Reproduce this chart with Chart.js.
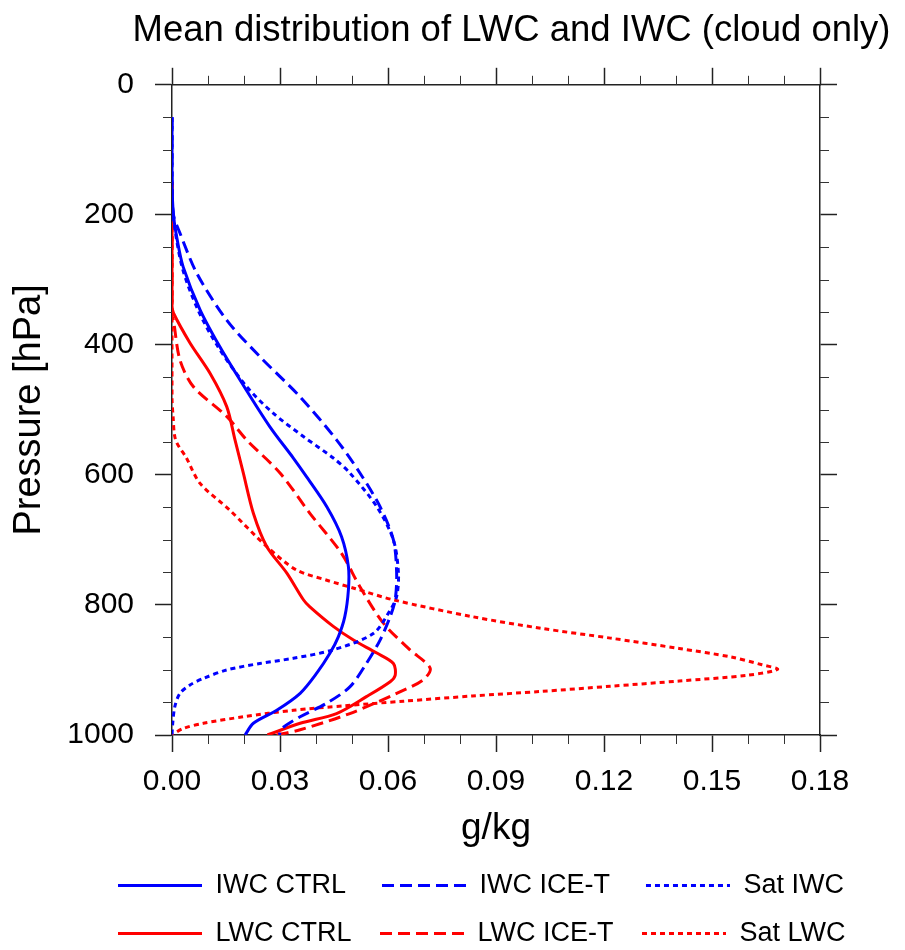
<!DOCTYPE html>
<html>
<head>
<meta charset="utf-8">
<title>Mean distribution of LWC and IWC (cloud only)</title>
<script src="https://cdn.jsdelivr.net/npm/chart.js@4.4.1/dist/chart.umd.min.js"></script>
<style>
  html, body { margin: 0; padding: 0; background: #fff; }
</style>
</head>
<body>
<canvas id="profile-chart" width="905" height="950"></canvas>
<script>
// pressure levels (hPa) and mixing ratios (g/kg)
const pIwcCtrl = [50, 150, 200, 240, 280, 346, 403, 454, 526, 574, 603, 649, 695, 741, 777, 818, 849, 874, 905, 936, 962, 982, 1000];
const iwcCtrl  = [0, 0, 0.0004, 0.0015, 0.0031, 0.0078, 0.0133, 0.0189, 0.0272, 0.0337, 0.0374, 0.043, 0.0471, 0.049, 0.049, 0.048, 0.0462, 0.0439, 0.0402, 0.0356, 0.0291, 0.0226, 0.0203];

const pIwcIce = [50, 150, 200, 228, 290, 362, 418, 480, 546, 597, 649, 700, 751, 792, 818, 854, 890, 926, 951, 972, 990, 1000];
const iwcIce  = [0, 0, 0.0004, 0.0022, 0.0069, 0.0152, 0.0244, 0.0356, 0.0457, 0.0522, 0.0578, 0.0615, 0.0624, 0.062, 0.0606, 0.0578, 0.054, 0.0494, 0.043, 0.0356, 0.0305, 0.0298];

const pSatIwc = [50, 150, 200, 280, 346, 403, 464, 505, 541, 574, 597, 649, 700, 751, 787, 808, 844, 869, 882, 890, 900, 913, 923, 936, 956, 982, 1000];
const satIwc  = [0, 0, 0.0003, 0.0028, 0.0072, 0.0128, 0.0207, 0.0281, 0.0365, 0.0448, 0.0494, 0.0569, 0.0615, 0.0629, 0.0624, 0.0606, 0.0559, 0.0448, 0.0337, 0.0244, 0.0152, 0.0087, 0.005, 0.0022, 0.0008, 0.0002, 0];

const pLwcCtrl = [150, 340, 351, 397, 444, 495, 546, 597, 659, 710, 751, 792, 803, 833, 854, 874, 890, 908, 918, 941, 967, 982, 1000];
const lwcCtrl  = [0, 0, 0.0004, 0.005, 0.0106, 0.0152, 0.0175, 0.0198, 0.0226, 0.0263, 0.0319, 0.0365, 0.0383, 0.0448, 0.0504, 0.0569, 0.0615, 0.062, 0.0606, 0.054, 0.0457, 0.0356, 0.0265];

const pLwcIce = [150, 355, 362, 423, 464, 510, 546, 597, 659, 720, 772, 828, 869, 897, 915, 936, 967, 992, 1000];
const lwcIce  = [0, 0, 0.0004, 0.0022, 0.0059, 0.0152, 0.0207, 0.03, 0.0383, 0.047, 0.0522, 0.0587, 0.0661, 0.0717, 0.0698, 0.0624, 0.0494, 0.0356, 0.029];

const pSatLwc = [150, 480, 510, 546, 574, 613, 654, 710, 746, 762, 775, 792, 818, 836, 851, 867, 880, 892, 899, 908, 917, 925, 933, 940, 948, 955, 962, 972, 982, 990, 1000];
const satLwc  = [0, 0, 0.0003, 0.001, 0.004, 0.0078, 0.016, 0.0263, 0.0345, 0.043, 0.051, 0.0614, 0.0834, 0.1026, 0.1218, 0.1409, 0.1553, 0.1639, 0.1682, 0.16, 0.1409, 0.1218, 0.1026, 0.0834, 0.0643, 0.048, 0.0337, 0.0198, 0.0087, 0.0031, 0];

const seriesNames = ["IWC CTRL", "IWC ICE-T", "Sat IWC", "LWC CTRL", "LWC ICE-T", "Sat LWC"];

// axis ticks
const xMax = 0.18, xMajor = 0.03, xMinor = 0.01;
const pMax = 1000, pMajor = 200, pMinor = 50;

const FONT = "'Liberation Sans', Arial, Helvetica, sans-serif";
const BLUE = "#0000ff";
const RED = "#ff0000";
const DASH = [12, 6];
const DOT = [5, 4];

const toPoints = (p, v) => p.map((pr, i) => ({ x: v[i], y: pr }));

function profile(label, p, v, color, dash) {
  return {
    label: label,
    data: toPoints(p, v),
    borderColor: color,
    backgroundColor: color,
    borderWidth: 3,
    borderDash: dash,
    pointRadius: 0,
    tension: 0.3,
    xAxisID: "x",
    yAxisID: "y",
  };
}

// minor tick marks on all four sides of the frame
const minorTicks = {
  id: "minorTicks",
  afterDraw(chart) {
    const { ctx, chartArea: a, scales } = chart;
    const len = 9;
    ctx.save();
    ctx.strokeStyle = "#333";
    ctx.lineWidth = 1;
    ctx.beginPath();
    for (let i = 0; i * xMinor <= xMax + 1e-9; i++) {
      if (i % Math.round(xMajor / xMinor) === 0) continue;
      const px = Math.round(scales.x.getPixelForValue(i * xMinor)) + 0.5;
      ctx.moveTo(px, a.bottom); ctx.lineTo(px, a.bottom + len);
      ctx.moveTo(px, a.top); ctx.lineTo(px, a.top - len);
    }
    for (let p = 0; p <= pMax; p += pMinor) {
      if (p % pMajor === 0) continue;
      const py = Math.round(scales.y.getPixelForValue(p)) + 0.5;
      ctx.moveTo(a.left, py); ctx.lineTo(a.left - len, py);
      ctx.moveTo(a.right, py); ctx.lineTo(a.right + len, py);
    }
    ctx.stroke();
    ctx.restore();
  },
};

// title sits over the plot, legend block starts under the left axis
const blockPlace = {
  id: "blockPlace",
  afterLayout(chart) {
    const t = chart.titleBlock;
    t.left += 59;
    t.right += 59;
    const lg = chart.legend;
    lg.left += 97;
    lg.right += 97;
  },
};

const frameGrid = {
  drawOnChartArea: false,
  drawTicks: true,
  tickLength: 17,
  tickColor: "#222",
  tickWidth: 1.5,
};
const frameBorder = { display: true, color: "#222", width: 1.5 };

const chart = new Chart(document.getElementById("profile-chart"), {
  type: "line",
  data: {
    datasets: [
      profile(seriesNames[0], pIwcCtrl, iwcCtrl, BLUE, []),
      profile(seriesNames[1], pIwcIce, iwcIce, BLUE, DASH),
      profile(seriesNames[2], pSatIwc, satIwc, BLUE, DOT),
      profile(seriesNames[3], pLwcCtrl, lwcCtrl, RED, []),
      profile(seriesNames[4], pLwcIce, lwcIce, RED, DASH),
      profile(seriesNames[5], pSatLwc, satLwc, RED, DOT),
    ],
  },
  options: {
    responsive: false,
    animation: false,
    indexAxis: "y",
    layout: { padding: 0 },
    plugins: {
      title: {
        display: true,
        text: "Mean distribution of LWC and IWC (cloud only)",
        color: "#000",
        font: { family: FONT, size: 36.5, weight: "normal" },
        padding: { top: 9, bottom: 0 },
      },
      legend: {
        display: true,
        position: "bottom",
        align: "start",
        maxHeight: 99,
        labels: {
          color: "#000",
          font: { family: FONT, size: 27 },
          usePointStyle: true,
          pointStyle: "line",
          pointStyleWidth: 84,
          padding: 21,
          // dash pattern from each dataset; trailing spaces keep the columns lined up
          generateLabels(c) {
            const pads = [2, 2, 0, 1, 1, 0];
            return Chart.defaults.plugins.legend.labels.generateLabels(c).map((item, i) => {
              const ds = c.data.datasets[item.datasetIndex];
              item.text = item.text + " ".repeat(pads[i]);
              item.lineDash = ds.borderDash;
              item.lineWidth = ds.borderWidth;
              item.strokeStyle = ds.borderColor;
              return item;
            });
          },
        },
      },
      tooltip: { enabled: false },
    },
    scales: {
      x: {
        type: "linear",
        position: "bottom",
        min: 0,
        max: xMax,
        grid: frameGrid,
        border: frameBorder,
        ticks: {
          stepSize: xMajor,
          color: "#000",
          padding: 12,
          maxRotation: 0,
          font: { family: FONT, size: 30 },
          callback: (v) => v.toFixed(2),
        },
        title: {
          display: true,
          text: "g/kg",
          color: "#000",
          font: { family: FONT, size: 37 },
          padding: { top: 0, bottom: 0 },
        },
        afterFit: (s) => { s.height = 116; },
      },
      x2: {
        type: "linear",
        position: "top",
        min: 0,
        max: xMax,
        grid: frameGrid,
        border: frameBorder,
        ticks: { stepSize: xMajor, display: false },
        afterFit: (s) => { s.height = 32; },
      },
      y: {
        type: "linear",
        position: "left",
        reverse: true,
        min: 0,
        max: pMax,
        grid: frameGrid,
        border: frameBorder,
        ticks: {
          stepSize: pMajor,
          color: "#000",
          padding: 21,
          font: { family: FONT, size: 30 },
          callback: (v) => String(v),
        },
        title: {
          display: true,
          text: "Pressure [hPa]",
          color: "#000",
          font: { family: FONT, size: 38 },
          padding: { top: 7, bottom: 0 },
        },
        afterFit: (s) => { s.width = 172; },
      },
      y2: {
        type: "linear",
        position: "right",
        reverse: true,
        min: 0,
        max: pMax,
        grid: frameGrid,
        border: frameBorder,
        ticks: { stepSize: pMajor, display: false },
        afterFit: (s) => { s.width = 85; },
      },
    },
  },
  plugins: [minorTicks, blockPlace],
});
</script>
</body>
</html>
